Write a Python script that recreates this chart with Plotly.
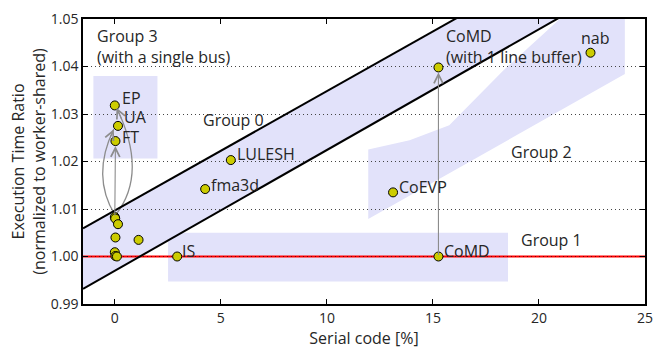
import plotly.graph_objects as go

# ---------------- data ----------------
bench_names = ["EP", "UA", "FT", "", "", "", "", "", "", "", "",
               "IS", "fma3d", "LULESH", "CoEVP", "CoMD",
               "CoMD<br>(with 1 line buffer)", "nab"]
serial_pct = [0.0, 0.15, 0.03, 0.0, 0.02, 0.15, 0.03, 1.12, 0.0, 0.03, 0.1,
              2.94, 4.26, 5.47, 13.12, 15.26, 15.26, 22.43]
time_ratio = [1.0318, 1.0275, 1.0243, 1.0083, 1.0080, 1.0068, 1.0040, 1.0035,
              1.0009, 1.0001, 1.0000,
              1.0000, 1.0142, 1.0203, 1.0135, 1.0000, 1.0398, 1.0429]

x_ticks = [0, 5, 10, 15, 20, 25]
y_ticks = [0.99, 1.00, 1.01, 1.02, 1.03, 1.04, 1.05]
x_range = [-1.5, 25]
y_range = [0.99, 1.05]

# group-0 boundary lines: (intercept, slope)
line_upper = (1.0097, 0.002512)
line_lower = (0.9970, 0.002542)
baseline = 1.0

# shaded group regions
group3_box = dict(x0=-1.01, x1=2.01, y0=1.02065, y1=1.0380)
group1_box = dict(x0=2.51, x1=18.54, y0=0.99476, y1=1.00498)
group2_poly_x = [11.95, 13.9, 15.77, 18.33, 20.98, 24.05, 24.05, 11.95]
group2_poly_y = [1.02254, 1.0245, 1.02763, 1.03922, 1.05, 1.05, 1.0384, 1.0079]

group_labels = ["Group 3<br>(with a single bus)", "Group 0", "Group 2", "Group 1"]
group_label_x = [-0.93, 4.08, 18.59, 19.08]
group_label_y = [1.04422, 1.02868, 1.02208, 1.00349]

# straight arrows: (from_x, from_y, to_x, to_y)
straight_arrows = [(0.0, 1.0083, 0.03, 1.0243), (15.26, 1.0, 15.26, 1.0398)]
# curved arrows: start, control, end
curved_arrows = [((0.0, 1.0088), (-1.12, 1.0170), (-0.05, 1.0268)),
                 ((0.05, 1.0088), (1.58, 1.0176), (0.08, 1.0313))]

# ---------------- styles ----------------
FONT = "Open Sans"
TXT = "#262626"
BAND = "#e2e2fa"
ARROW = "#8c8c8c"
label_shift = {"EP": (5, 7, "left"), "UA": (4, 9, "left"), "FT": (5, 4, "left"),
               "IS": (3, 6, "left"), "fma3d": (4, 4, "left"), "LULESH": (4, 6, "left"),
               "CoEVP": (4, 5, "left"), "CoMD": (4, 6, "left"),
               "CoMD<br>(with 1 line buffer)": (6, 21, "left"), "nab": (5, 15, "center")}

fig = go.Figure()

shapes = []
xa, xb = x_range[0], x_range[1]
def lin(p, x):
    return p[0] + p[1] * x
path0 = (f"M {xa},{lin(line_upper, xa)} L {xb},{lin(line_upper, xb)} "
         f"L {xb},{lin(line_lower, xb)} L {xa},{lin(line_lower, xa)} Z")
shapes.append(dict(type="path", path=path0, xref="x", yref="y", fillcolor=BAND,
                   line=dict(width=0), layer="below"))
path2 = "M " + " L ".join(f"{x},{y}" for x, y in zip(group2_poly_x, group2_poly_y)) + " Z"
shapes.append(dict(type="path", path=path2, xref="x", yref="y", fillcolor=BAND,
                   line=dict(width=0), layer="below"))
for b in (group3_box, group1_box):
    shapes.append(dict(type="rect", xref="x", yref="y", fillcolor=BAND,
                       line=dict(width=0), layer="below", **b))

annotations = []
for (s, c, e) in curved_arrows:
    shapes.append(dict(type="path", xref="x", yref="y",
                       path=f"M {s[0]},{s[1]} Q {c[0]},{c[1]} {e[0]},{e[1]}",
                       line=dict(color=ARROW, width=1.3), layer="between"))
    t = 0.9
    tx = (1 - t) ** 2 * s[0] + 2 * (1 - t) * t * c[0] + t ** 2 * e[0]
    ty = (1 - t) ** 2 * s[1] + 2 * (1 - t) * t * c[1] + t ** 2 * e[1]
    annotations.append(dict(x=e[0], y=e[1], ax=tx, ay=ty, xref="x", yref="y",
                            axref="x", ayref="y", text="", showarrow=True,
                            arrowhead=5, arrowsize=1.6, arrowwidth=1.1, arrowcolor=ARROW))

for (x0, y0, x1, y1) in straight_arrows:
    annotations.append(dict(x=x1, y=y1, ax=x0, ay=y0, xref="x", yref="y",
                            axref="x", ayref="y", text="", showarrow=True, standoff=5,
                            arrowhead=5, arrowsize=1.6, arrowwidth=1.1, arrowcolor=ARROW))

# red baseline with dotted grid overlay
fig.add_trace(go.Scatter(x=[xa, xb], y=[baseline, baseline], mode="lines",
                         line=dict(color="#ff0000", width=2), hoverinfo="skip",
                         showlegend=False))
fig.add_trace(go.Scatter(x=[xa, xb], y=[baseline, baseline], mode="lines",
                         line=dict(color="#7a0000", width=1, dash="1px,3px"),
                         hoverinfo="skip", showlegend=False))

# boundary lines
for p in (line_upper, line_lower):
    fig.add_trace(go.Scatter(x=[xa, xb], y=[lin(p, xa), lin(p, xb)], mode="lines",
                             line=dict(color="black", width=2), hoverinfo="skip",
                             showlegend=False))

# benchmark points
fig.add_trace(go.Scatter(x=serial_pct, y=time_ratio, mode="markers",
                         marker=dict(size=9, color="#cccc00",
                                     line=dict(color="black", width=1)),
                         showlegend=False, cliponaxis=False))

for name, x, y in zip(bench_names, serial_pct, time_ratio):
    if not name:
        continue
    dx, dy, anc = label_shift[name]
    annotations.append(dict(x=x, y=y, xref="x", yref="y", text=name, showarrow=False,
                            xanchor=anc, yanchor="middle", xshift=dx, yshift=dy,
                            align="left", font=dict(family=FONT, size=16, color=TXT)))

for t, x, y in zip(group_labels, group_label_x, group_label_y):
    annotations.append(dict(x=x, y=y, xref="x", yref="y", text=t, showarrow=False,
                            xanchor="left", yanchor="middle", align="left",
                            font=dict(family=FONT, size=16, color=TXT)))

fig.update_layout(
    width=662, height=352,
    margin=dict(l=83, r=9, t=11, b=48),
    paper_bgcolor="white", plot_bgcolor="white",
    font=dict(family=FONT, size=14, color=TXT),
    shapes=shapes, annotations=annotations,
    showlegend=False,
)
fig.update_xaxes(range=x_range, tickvals=x_ticks, ticktext=[str(v) for v in x_ticks],
                 showgrid=False, zeroline=False, showline=True, linecolor="black",
                 linewidth=1.5, mirror="ticks", ticks="inside", ticklen=5,
                 tickcolor="black", tickfont=dict(size=14, color=TXT),
                 title=dict(text="Serial code [%]", font=dict(size=16, color=TXT), standoff=4))
fig.update_yaxes(range=y_range, tickvals=y_ticks, ticktext=[f"{v:.2f}" for v in y_ticks],
                 showgrid=True, gridcolor="#444444", griddash="1px,3px", gridwidth=1,
                 zeroline=False, showline=True, linecolor="black",
                 linewidth=1.5, mirror="ticks", ticks="inside", ticklen=5,
                 tickcolor="black", tickfont=dict(size=14, color=TXT),
                 title=dict(text="Execution Time Ratio<br>(normalized to worker-shared)",
                            font=dict(size=16, color=TXT), standoff=1))

fig.write_html("out.html")
